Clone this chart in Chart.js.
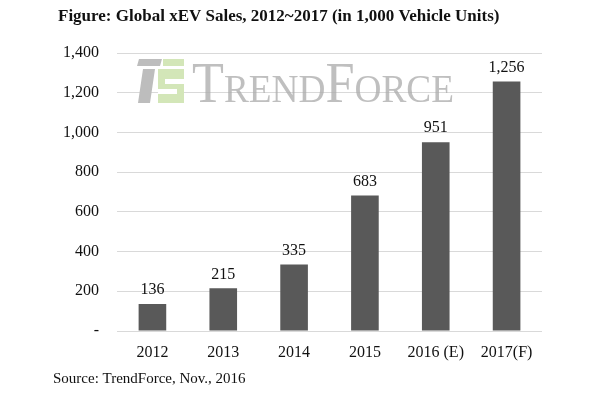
<!DOCTYPE html>
<html lang="en">
<head>
  <meta charset="UTF-8">
  <title>Global xEV Sales</title>
  <script src="https://cdn.jsdelivr.net/npm/chart.js"></script>
  <style>
    html, body { margin: 0; padding: 0; background: #fff; }
    .wrap { width: 600px; height: 396px; }
  </style>
</head>
<body>
  <div class="wrap"><canvas id="salesChart" width="600" height="396"></canvas></div>

<script>
  const years = ['2012', '2013', '2014', '2015', '2016 (E)', '2017(F)'];
  const sales = [136, 215, 335, 683, 951, 1256];
  const yTicks = [0, 200, 400, 600, 800, 1000, 1200, 1400];

  const SERIF = "'Liberation Serif', 'DejaVu Serif', serif";

  // title, source line and the faint TrendForce watermark
  const decor = {
    id: 'decor',
    beforeDatasetsDraw(chart) {
      const ctx = chart.ctx;
      ctx.save();
      // logo
      ctx.fillStyle = '#bdbdbd';
      ctx.beginPath();
      ctx.moveTo(139, 59); ctx.lineTo(162, 59); ctx.lineTo(160, 66); ctx.lineTo(137, 66);
      ctx.closePath(); ctx.fill();
      ctx.beginPath();
      ctx.moveTo(143, 69); ctx.lineTo(155, 69); ctx.lineTo(150, 103); ctx.lineTo(138, 103);
      ctx.closePath(); ctx.fill();
      ctx.fillStyle = '#d3e6b8';
      ctx.fillRect(163, 59, 21, 7);
      ctx.fillRect(158, 69, 26, 34);
      ctx.fillStyle = '#ffffff';
      ctx.fillRect(165, 79, 19, 5);
      ctx.fillRect(158, 89, 19, 5);

      // wordmark
      ctx.fillStyle = 'rgba(170,170,170,0.75)';
      ctx.textBaseline = 'alphabetic';
      const parts = [['T', 56], ['REND', 40], ['F', 56], ['ORCE', 40]];
      let w = 0;
      parts.forEach(p => { ctx.font = p[1] + 'px ' + SERIF; w += ctx.measureText(p[0]).width; });
      const sx = (454 - 192) / w;
      ctx.translate(192, 102);
      ctx.scale(sx, 1);
      let x = 0;
      parts.forEach(p => {
        ctx.font = p[1] + 'px ' + SERIF;
        ctx.fillText(p[0], x, 0);
        x += ctx.measureText(p[0]).width;
      });
      ctx.restore();
    },
    afterDraw(chart) {
      const ctx = chart.ctx;
      ctx.save();
      ctx.fillStyle = '#111';
      ctx.textBaseline = 'middle';
      ctx.textAlign = 'left';
      ctx.font = 'bold 17px ' + SERIF;
      ctx.fillText('Figure: Global xEV Sales, 2012~2017 (in 1,000 Vehicle Units)', 58, 17);
      ctx.font = '15px ' + SERIF;
      ctx.fillText('Source: TrendForce, Nov., 2016', 53, 379);

      // value labels above bars
      const meta = chart.getDatasetMeta(0);
      ctx.textAlign = 'center';
      ctx.textBaseline = 'bottom';
      ctx.font = '16px ' + SERIF;
      meta.data.forEach((bar, i) => {
        ctx.fillText(sales[i].toLocaleString('en-US'), bar.x, bar.y - 6);
      });
      ctx.restore();
    }
  };

  new Chart(document.getElementById('salesChart'), {
    type: 'bar',
    data: {
      labels: years,
      datasets: [{
        label: 'xEV Sales',
        data: sales,
        backgroundColor: '#595959',
        categoryPercentage: 1,
        barPercentage: 0.39
      }]
    },
    options: {
      responsive: false,
      animation: false,
      layout: { padding: { left: 0, right: 58, top: 53, bottom: 0 } },
      plugins: {
        legend: { display: false },
        tooltip: { enabled: false },
        title: { display: false }
      },
      scales: {
        x: {
          grid: { display: false, drawTicks: false },
          border: { display: false },
          ticks: { color: '#111', font: { family: SERIF, size: 16 }, padding: 12 },
          afterFit(scale) { scale.height = 65; }
        },
        y: {
          min: 0,
          max: 1400,
          afterBuildTicks(scale) { scale.ticks = yTicks.map(v => ({ value: v })); },
          grid: { color: '#d9d9d9', drawTicks: false },
          border: { display: false },
          ticks: {
            color: '#111',
            font: { family: SERIF, size: 16 },
            padding: 18,
            callback: v => v === 0 ? '-' : v.toLocaleString('en-US')
          },
          afterFit(scale) { scale.width = 117; }
        }
      }
    },
    plugins: [decor]
  });
</script>
</body>
</html>
